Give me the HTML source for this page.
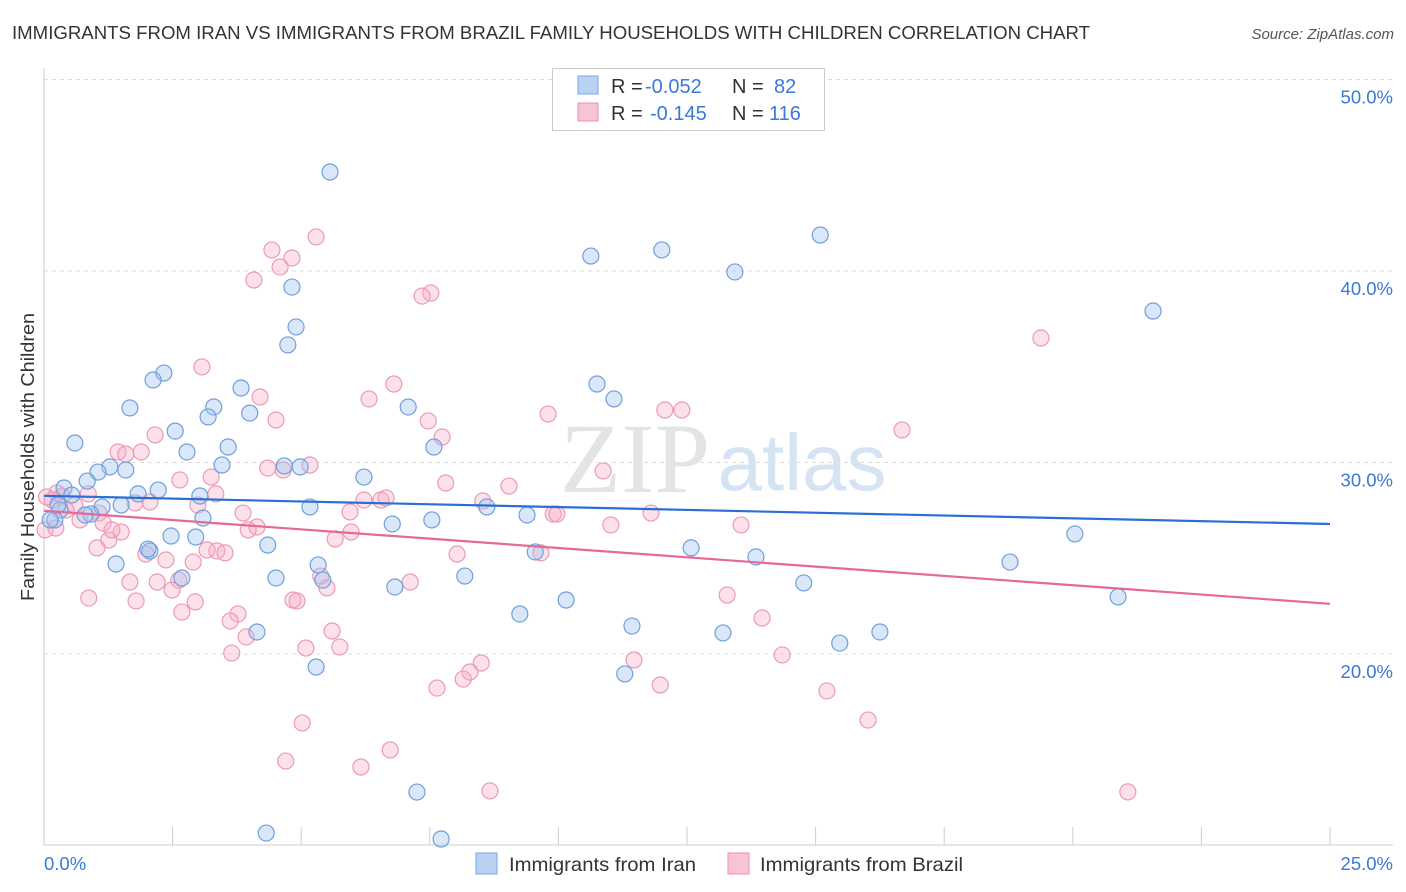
<!DOCTYPE html>
<html><head><meta charset="utf-8">
<style>
body{margin:0;background:#fff;font-family:"Liberation Sans",sans-serif;}
#wrap{position:relative;width:1406px;height:892px;overflow:hidden;}
</style></head>
<body>
<div id="wrap">
<svg id="chart" width="1406" height="892" font-family="Liberation Sans, sans-serif">
<text x="12" y="39" font-size="18" fill="#333" textLength="1078" lengthAdjust="spacingAndGlyphs">IMMIGRANTS FROM IRAN VS IMMIGRANTS FROM BRAZIL FAMILY HOUSEHOLDS WITH CHILDREN CORRELATION CHART</text>
<text x="1394" y="39" font-size="15" fill="#555" font-style="italic" text-anchor="end">Source: ZipAtlas.com</text>
<g id="grid"></g>
<g><text x="635" y="492" font-size="100" fill="#e4e4e4" font-family="Liberation Serif, serif" text-anchor="middle">ZIP</text><text x="802" y="490" font-size="80" fill="#d5e3f3" text-anchor="middle">atlas</text></g>
<g id="axes"></g>
<g id="pts"></g>
<g id="trends"></g>
<text transform="translate(34,457) rotate(-90)" font-size="18" fill="#333" text-anchor="middle" textLength="288" lengthAdjust="spacingAndGlyphs">Family Households with Children</text>
<g>
<rect x="552.5" y="68.5" width="272" height="62" fill="#fff" stroke="#ccc"/>
<rect x="578" y="76" width="20" height="18" fill="#b8d2f4" stroke="#7aa6e0"/>
<rect x="578" y="103" width="20" height="18" fill="#f8c3d4" stroke="#e891ae"/>
<text x="611" y="93" font-size="20" fill="#333">R = </text><text x="645" y="93" font-size="20" fill="#3b78d8">-0.052</text><text x="732" y="93" font-size="20" fill="#333">N = </text><text x="774" y="93" font-size="20" fill="#3b78d8">82</text>
<text x="611" y="120" font-size="20" fill="#333">R = </text><text x="650" y="120" font-size="20" fill="#3b78d8">-0.145</text><text x="732" y="120" font-size="20" fill="#333">N = </text><text x="769" y="120" font-size="20" fill="#3b78d8">116</text>
</g>
<g>
<rect x="476" y="853" width="21" height="21" fill="#b8d2f4" stroke="#7aa6e0"/>
<text x="509" y="871" font-size="19.5" fill="#333" textLength="187" lengthAdjust="spacingAndGlyphs">Immigrants from Iran</text>
<rect x="728" y="853" width="21" height="21" fill="#f8c3d4" stroke="#e891ae"/>
<text x="760" y="871" font-size="19.5" fill="#333" textLength="203" lengthAdjust="spacingAndGlyphs">Immigrants from Brazil</text>
</g>
</svg>
</div>
<script>
const iranX=[5.56,15.09,12.01,10.63,13.43,21.56,4.82,4.90,4.74,2.33,2.12,3.83,10.75,11.08,7.08,1.67,3.30,4.00,3.19,2.55,3.58,7.58,0.60,2.78,3.46,1.28,1.59,1.05,4.67,4.98,6.22,0.84,0.39,1.83,2.22,3.03,5.17,8.61,1.50,1.13,0.91,3.09,0.31,0.21,7.54,6.77,9.39,20.04,2.47,2.95,2.06,4.35,12.58,9.55,13.84,1.40,5.33,5.42,2.68,4.51,8.18,6.82,14.77,20.88,10.15,9.25,11.43,13.20,16.25,15.47,4.14,5.29,11.29,7.25,4.32,7.72,18.78,0.27,0.54,0.12,2.02,0.80];
const iranY=[45.17,41.88,41.10,40.78,39.95,37.91,39.16,37.08,36.14,34.67,34.31,33.89,34.10,33.32,32.90,32.85,32.90,32.58,32.38,31.64,30.81,30.81,31.02,30.55,29.87,29.77,29.61,29.50,29.82,29.77,29.24,29.03,28.67,28.36,28.56,28.25,27.68,27.68,27.78,27.68,27.31,27.10,27.52,27.00,27.00,26.79,27.26,26.27,26.16,26.11,25.38,25.69,25.54,25.33,25.07,24.70,24.65,23.86,23.97,23.97,24.07,23.50,23.71,22.98,22.82,22.09,21.46,21.10,21.15,20.57,21.15,19.32,18.96,12.79,10.65,10.34,24.80,27.78,28.30,27.00,25.48,27.26];
const brazilX=[5.29,4.43,4.82,4.59,4.08,7.52,7.35,19.38,3.07,6.80,4.20,6.32,4.51,9.80,12.07,12.40,16.68,7.47,7.74,2.16,1.44,1.59,1.89,2.64,3.25,4.35,5.17,4.65,10.87,7.81,3.34,0.86,8.53,9.04,1.77,2.06,2.99,3.87,6.22,6.55,6.65,5.95,9.90,9.97,11.80,13.55,11.02,4.14,3.97,5.97,5.66,1.07,0.70,1.15,1.50,1.26,1.03,1.98,2.37,2.90,3.36,3.52,3.17,9.66,8.03,1.67,2.20,2.62,2.49,0.87,1.79,2.94,4.84,4.92,5.38,5.50,7.12,2.68,3.77,3.62,13.28,13.96,5.60,5.75,3.93,3.65,5.09,11.47,14.35,8.50,8.28,8.15,7.64,11.98,15.22,16.02,5.02,4.70,6.16,6.73,8.67,21.07,0.25,0.16,0.43,0.60,0.35,0.02,0.23,1.32,0.05];
const brazilY=[41.78,41.10,40.68,40.21,39.53,38.85,38.69,36.50,34.99,34.10,33.42,33.32,32.22,32.53,32.74,32.74,31.70,32.17,31.33,31.44,30.55,30.44,30.55,29.09,29.24,29.71,29.87,29.61,29.56,28.93,28.36,28.36,27.99,28.77,27.89,27.94,27.78,27.36,28.04,28.04,28.15,27.42,27.31,27.31,27.36,26.74,26.74,26.63,26.48,26.37,26.01,27.36,27.00,26.84,26.37,25.95,25.54,25.22,24.91,24.80,25.38,25.28,25.43,25.28,25.22,23.76,23.76,23.86,23.34,22.92,22.77,22.72,22.82,22.77,24.07,23.45,23.76,22.19,22.09,21.72,23.08,21.88,21.20,20.37,20.89,20.05,20.31,19.69,19.95,19.53,19.06,18.69,18.22,18.38,18.07,16.55,16.40,14.41,14.10,14.99,12.85,12.80,28.41,28.04,27.52,27.78,28.25,26.48,26.58,26.48,28.2];
const iranTrend=[28.26,26.79];
const brazilTrend=[27.48,22.62];
const yTicks=[20,30,40,50];
const yTickLabels=["20.0%","30.0%","40.0%","50.0%"];
const xTicks=[0,2.5,5,7.5,10,12.5,15,17.5,20,22.5,25];
const xEndLabels=["0.0%","25.0%"];

const X0=44,X1=1330,Y50=79.5,PX=19.15;
const sx=v=>X0+v/25*(X1-X0);
const sy=v=>Y50+(50-v)*PX;
const NS="http://www.w3.org/2000/svg";
function mk(tag,attrs,parent){const e=document.createElementNS(NS,tag);for(const k in attrs)e.setAttribute(k,attrs[k]);parent.appendChild(e);return e;}
const grid=document.getElementById('grid'),axes=document.getElementById('axes'),pts=document.getElementById('pts'),tr=document.getElementById('trends');
yTicks.forEach((t,i)=>{
  const l=mk('line',{x1:X0,x2:1393,y1:sy(t),y2:sy(t),stroke:'#ddd','stroke-dasharray':'4,4'},grid);
  
  
  const tx=mk('text',{x:1393,y:sy(t)+24,'font-size':18.5,fill:'#3b78d8','text-anchor':'end'},axes);
  tx.textContent=yTickLabels[i];
  
  
});
const yax=mk('line',{x1:X0,x2:X0,y1:68,y2:845,stroke:'#ccc'},axes);


const xax=mk('line',{x1:X0,x2:1393,y1:845,y2:845,stroke:'#ccc'},axes);


xTicks.forEach(t=>{
  const l=mk('line',{x1:sx(t),x2:sx(t),y1:827,y2:845,stroke:'#ccc'},axes);
  
  
});
const xl0=mk('text',{x:44,y:870,'font-size':18.5,fill:'#3b78d8'},axes);
xl0.textContent=xEndLabels[0];


const xl1=mk('text',{x:1393,y:870,'font-size':18.5,fill:'#3b78d8','text-anchor':'end'},axes);
xl1.textContent=xEndLabels[1];


brazilX.forEach((v,i)=>{
  const c=mk('circle',{cx:sx(v),cy:sy(brazilY[i]),r:8,fill:'rgba(245,170,196,0.35)',stroke:'#eb9ab6','stroke-width':1.2},pts);
  
  
});
iranX.forEach((v,i)=>{
  const c=mk('circle',{cx:sx(v),cy:sy(iranY[i]),r:8,fill:'rgba(160,195,240,0.4)',stroke:'#6f9fde','stroke-width':1.2},pts);
  
  
});
const t1=mk('line',{x1:sx(0),x2:sx(25),y1:sy(iranTrend[0]),y2:sy(iranTrend[1]),stroke:'#2b6fd6','stroke-width':2.2},tr);


const t2=mk('line',{x1:sx(0),x2:sx(25),y1:sy(brazilTrend[0]),y2:sy(brazilTrend[1]),stroke:'#e56a98','stroke-width':2.2},tr);


</script>
</body></html>
